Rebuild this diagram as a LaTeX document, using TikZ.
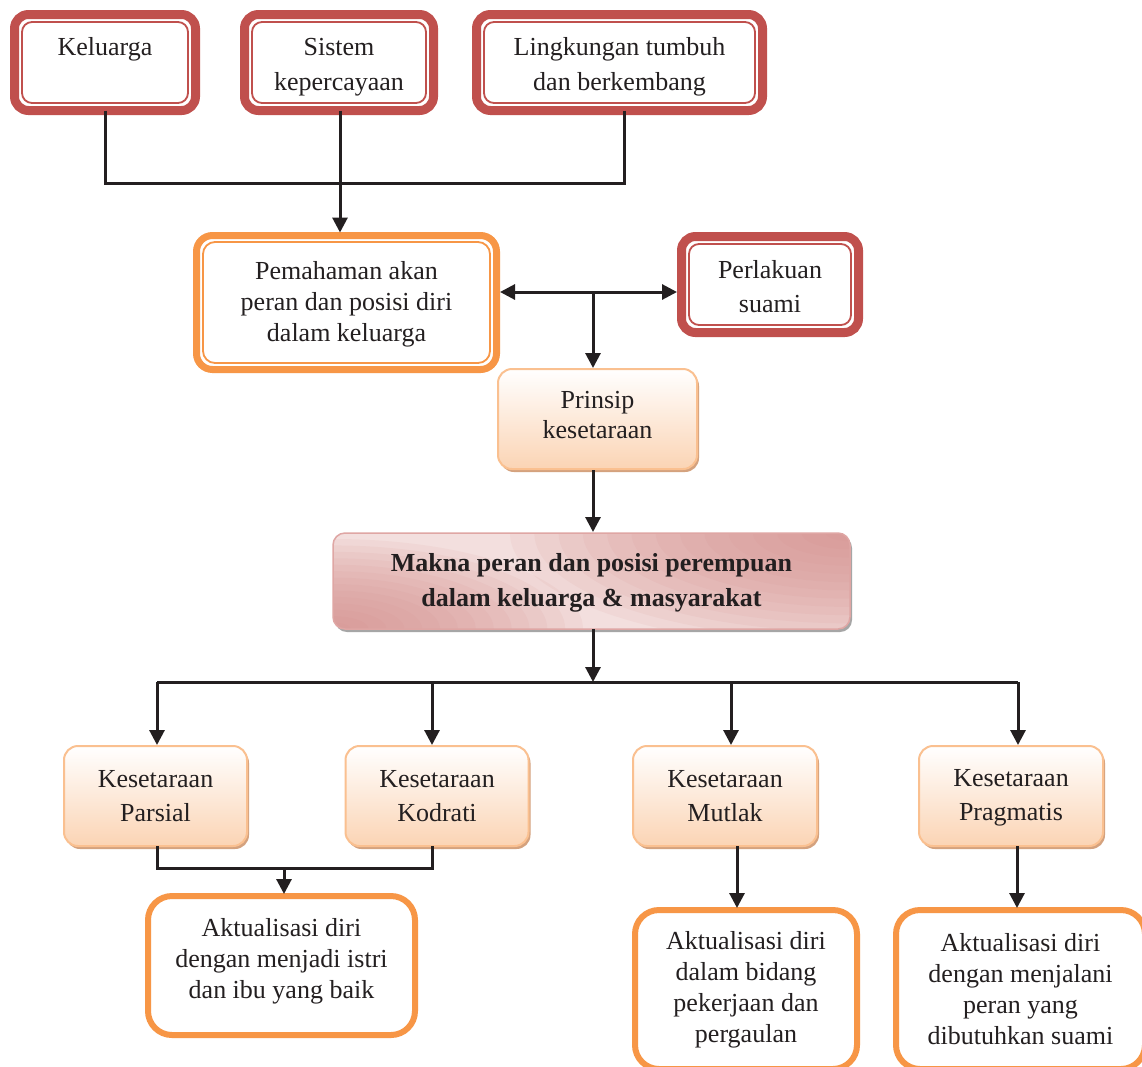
\documentclass[tikz,border=0pt]{standalone}
\usepackage{fontspec}
\setmainfont{Liberation Serif}
\usetikzlibrary{arrows.meta,shadows,calc}
\definecolor{bred}{HTML}{C0504D}
\definecolor{bor}{HTML}{F79646}
\definecolor{pch}{HTML}{FAC090}
\definecolor{pchf}{HTML}{FBD4B4}
\definecolor{pchs}{HTML}{D4A27E}
\definecolor{mk1}{HTML}{D48A88}
\definecolor{mkb}{HTML}{D99694}
\definecolor{mk2}{HTML}{F3DFDE}
\definecolor{ln}{HTML}{231F20}
\newcommand{\innerframe}[4]{\draw[#2, line width=1.8pt, rounded corners=#3] ($(#1.north west)+(#4,#4)$) rectangle ($(#1.south east)+(-#4,-#4)$);}
\tikzset{
  base/.style={align=center, inner sep=0pt, outer sep=0pt, text=ln, font=\fontsize{26}{31}\selectfont},
  redbox/.style={base, draw=bred, line width=9pt, rounded corners=14pt, fill=white},
  orbox/.style={base, draw=bor, line width=7pt, rounded corners=16pt, fill=white},
  aktbox/.style={base, draw=bor, line width=6pt, rounded corners=24pt, fill=white},
  peachbox/.style={base, draw=pch, line width=2pt, rounded corners=14pt, top color=white, bottom color=pchf,
     drop shadow={shadow xshift=2pt, shadow yshift=-3pt, fill=pchs, opacity=1}},
  makbox/.style={base, draw=mkb!85, line width=1.5pt, rounded corners=12pt, fill=mk2,
     path picture={
       \foreach \i in {1,...,14}{
         \fill[mk1, fill opacity=0.09] (path picture bounding box.north east) ellipse [x radius={340*\i/14}, y radius={115*\i/14}];
         \fill[mk1, fill opacity=0.09] (path picture bounding box.south west) ellipse [x radius={250*\i/14}, y radius={90*\i/14}];
       }
     },
     font=\fontsize{26}{35}\selectfont\bfseries,
     drop shadow={shadow xshift=2pt, shadow yshift=-3pt, fill=black!35, opacity=1}},
  conn/.style={draw=ln, line width=3pt},
  arr/.style={conn, -{Triangle[length=15pt,width=15pt]}},
  dblarr/.style={conn, {Triangle[length=15pt,width=15pt]}-{Triangle[length=15pt,width=15pt]}}
}
\begin{document}
\begin{tikzpicture}[x=1pt,y=-1pt]
\path[use as bounding box] (0,0) rectangle (1142,1066);
\clip (0,0) rectangle (1142,1066);
\fill[white] (0,0) rectangle (1142,1066);

% top row
\node[redbox, minimum width=181pt, minimum height=96pt, font=\fontsize{26}{35}\selectfont] (kel) at (105,62.5) {\rule{0pt}{20pt}Keluarga\\\mbox{}};
\node[redbox, minimum width=189pt, minimum height=96pt, font=\fontsize{26}{35}\selectfont] (sis) at (339,62.5) {\rule{0pt}{27pt}Sistem\\kepercayaan};
\node[redbox, minimum width=286pt, minimum height=96pt, font=\fontsize{26}{35}\selectfont] (lin) at (619.5,62.5) {\rule{0pt}{27pt}Lingkungan tumbuh\\dan berkembang};
\innerframe{kel}{bred}{10pt}{7.5}
\innerframe{sis}{bred}{10pt}{7.5}
\innerframe{lin}{bred}{10pt}{7.5}

% second row
\node[orbox, minimum width=300pt, minimum height=134pt] (pem) at (346.5,302.5) {\rule{0pt}{21pt}Pemahaman akan\\peran dan posisi diri\\dalam keluarga};
\innerframe{pem}{bor}{12pt}{6.5}
\node[redbox, minimum width=177pt, minimum height=96pt, font=\fontsize{26}{34}\selectfont] (per) at (770,284.5) {\rule{0pt}{22pt}Perlakuan\\suami};
\innerframe{per}{bred}{10pt}{7.5}

\node[peachbox, minimum width=199pt, minimum height=100pt, font=\fontsize{26}{30}\selectfont] (pri) at (597.5,419) {Prinsip\\kesetaraan\\[-22pt]\mbox{}};

\node[makbox, minimum width=517pt, minimum height=96pt] (mak) at (591.5,581) {\rule{0pt}{21pt}Makna peran dan posisi perempuan\\dalam keluarga \& masyarakat};

% fourth row
\node[peachbox, minimum width=183pt, minimum height=100pt, font=\fontsize{26}{34}\selectfont] (par) at (155.5,796) {Kesetaraan\\Parsial};
\node[peachbox, minimum width=183pt, minimum height=100pt, font=\fontsize{26}{34}\selectfont] (kod) at (437,796) {Kesetaraan\\Kodrati};
\node[peachbox, minimum width=184pt, minimum height=100pt, font=\fontsize{26}{34}\selectfont] (mut) at (725,796) {Kesetaraan\\Mutlak};
\node[peachbox, minimum width=184pt, minimum height=100pt, font=\fontsize{26}{34}\selectfont] (pra) at (1011,796) {\rule{0pt}{20pt}Kesetaraan\\Pragmatis};

% bottom row
\node[aktbox, minimum width=267pt, minimum height=139pt] (ak1) at (281.5,965.5) {Aktualisasi diri\\dengan menjadi istri\\dan ibu yang baik\\[-17pt]\mbox{}};
\node[aktbox, minimum width=222pt, minimum height=159pt] (ak2) at (746,989.5) {Aktualisasi diri\\dalam bidang\\pekerjaan dan\\pergaulan};
\node[aktbox, minimum width=249pt, minimum height=159pt] (ak3) at (1020.5,989.5) {Aktualisasi diri\\dengan menjalani\\peran yang\\dibutuhkan suami};

% connectors top
\coordinate (jt) at (340,183);
\draw[conn] (kel.south) |- (jt);
\draw[conn] ($(lin.south)+(4.5,0)$) |- (jt);
\draw[arr, shorten >=3pt] (sis.south -| jt) -- (pem.north -| jt);

\coordinate (dj) at (593,292);
\draw[dblarr, shorten <=3.5pt, shorten >=4.5pt] (pem.east |- dj) -- (per.west |- dj);
\draw[arr, shorten >=1pt] (dj) -- (dj |- pri.north);
\draw[arr, shorten <=1pt, shorten >=1pt] (dj |- pri.south) -- (dj |- mak.north);

\coordinate (bus) at (593,682);
\draw[arr] (dj |- mak.south) -- (bus);
\coordinate (b1) at (157,682);
\coordinate (b2) at (432,682);
\coordinate (b3) at (731,682);
\coordinate (b4) at (1018,682);
\draw[conn] (b1) -- (b4);
\draw[arr, shorten >=1pt] (b1) -- (b1 |- par.north);
\draw[arr, shorten >=1pt] (b2) -- (b2 |- kod.north);
\draw[arr, shorten >=1pt] (b3) -- (b3 |- mut.north);
\draw[arr, shorten >=1pt] (b4) -- (b4 |- pra.north);

\coordinate (j2) at (284,868);
\draw[conn] (b1 |- par.south) |- (j2);
\draw[conn] (b2 |- kod.south) |- (j2);
\draw[arr, shorten >=2pt] (j2) -- (j2 |- ak1.north);
\coordinate (c3) at (737,0);
\coordinate (c4) at (1017,0);
\draw[arr, shorten >=2pt] (c3 |- mut.south) -- (c3 |- ak2.north);
\draw[arr, shorten >=2pt] (c4 |- pra.south) -- (c4 |- ak3.north);
\end{tikzpicture}
\end{document}
